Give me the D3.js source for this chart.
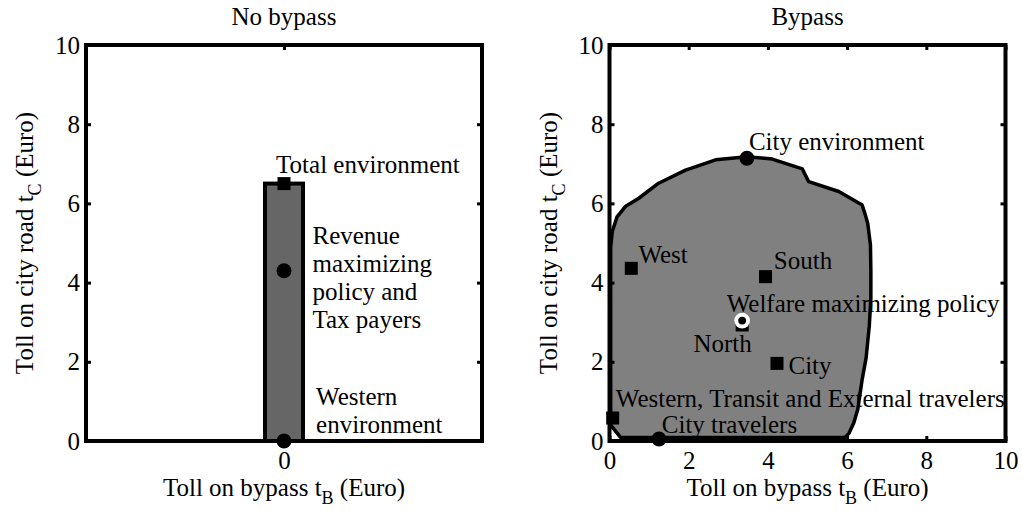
<!DOCTYPE html>
<html>
<head>
<meta charset="utf-8">
<script src="https://cdn.jsdelivr.net/npm/d3@7"></script>
<style>
  body { margin: 0; background: #fff; }
  svg { display: block; }
</style>
</head>
<body>
<svg id="chart" width="1022" height="510"></svg>
<script>
// ---- data ----
const yTicks = [0, 2, 4, 6, 8, 10];
const xTicksNoBypass = [0];
const xTicksBypass = [0, 2, 4, 6, 8, 10];

// no bypass: feasible set is a thin bar at t_B = 0
const barTB = [-0.48, 0.48];
const barTC = [0, 6.5];

const noBypassPoints = [
    { tB: 0, tC: 6.5, shape: "square" },   // total environment
    { tB: 0, tC: 4.3, shape: "circle" },   // revenue max / tax payers
    { tB: 0, tC: 0, shape: "circle" }      // western environment
];
const noBypassLabels = [
    { tB: -0.2, tC: 6.77, lines: ["Total environment"] },
    { tB: 0.72, tC: 4.97, lines: ["Revenue", "maximizing", "policy and", "Tax payers"] },
    { tB: 0.81, tC: 0.91, lines: ["Western", "environment"] }
];

// bypass: feasible region outline (t_B, t_C)
const regionTB = [0.03, 0.28, 5.95, 6.05, 6.17, 6.27, 6.38, 6.48, 6.56, 6.6, 6.6, 6.59, 6.52, 6.46,
                  6.38, 5.79, 5.03, 4.87, 4.11, 3.48, 2.68, 1.92, 1.24, 0.74, 0.40, 0.19, 0.07, 0.03];
const regionTC = [0.40, 0.09, 0.09, 0.2, 0.46, 0.8, 1.55, 2.1, 2.9, 3.6, 4.3, 4.95, 5.5, 5.71,
                  5.96, 6.30, 6.55, 6.87, 7.12, 7.18, 7.10, 6.84, 6.51, 6.13, 5.92, 5.66, 5.29, 4.9];

const bypassPoints = [
    { tB: 3.47, tC: 7.14, shape: "circle" },   // city environment
    { tB: 0.55, tC: 4.36, shape: "square" },   // west
    { tB: 3.94, tC: 4.15, shape: "square" },   // south
    { tB: 3.35, tC: 2.93, shape: "square" },   // north
    { tB: 4.23, tC: 1.96, shape: "square" },   // city
    { tB: 0.08, tC: 0.58, shape: "square" },   // western, transit, external
    { tB: 1.25, tC: 0.05, shape: "circle" },   // city travelers
    { tB: 3.35, tC: 3.04, shape: "welfare" }   // welfare max
];
const bypassLabels = [
    { tB: 3.52, tC: 7.35, lines: ["City environment"] },
    { tB: 0.73, tC: 4.49, lines: ["West"] },
    { tB: 4.15, tC: 4.34, lines: ["South"] },
    { tB: 2.96, tC: 3.25, lines: ["Welfare maximizing policy"] },
    { tB: 2.12, tC: 2.25, lines: ["North"] },
    { tB: 4.52, tC: 1.69, lines: ["City"] },
    { tB: 0.16, tC: 0.85, lines: ["Western, Transit and External travelers"] },
    { tB: 1.32, tC: 0.21, lines: ["City travelers"] }
];

// ---- drawing ----
const svg = d3.select("#chart");
const fs = 25;
const font = "'Liberation Serif', 'Times New Roman', serif";
const size = 396, marginTop = 45;

function txt(sel) {
    return sel.attr("font-family", font).attr("font-size", fs).attr("fill", "#000");
}

function panel(left, title, xDomain, xTicks) {
    const g = svg.append("g").attr("transform", `translate(${left}, ${marginTop})`);
    const x = d3.scaleLinear().domain(xDomain).range([0, size]);
    const y = d3.scaleLinear().domain([0, 10]).range([size, 0]);

    g.append("text").call(txt)
        .attr("x", size / 2).attr("y", -20)
        .attr("text-anchor", "middle")
        .text(title);

    // x label with subscript
    const xl = g.append("text").call(txt)
        .attr("x", size / 2).attr("y", size + 55)
        .attr("text-anchor", "middle");
    xl.append("tspan").text("Toll on bypass t");
    xl.append("tspan").attr("dy", 8).attr("font-size", 18).text("B");
    xl.append("tspan").attr("dy", -8).text(" (Euro)");

    const yl = g.append("text").call(txt)
        .attr("transform", `translate(-53, ${size / 2}) rotate(-90)`)
        .attr("text-anchor", "middle");
    yl.append("tspan").text("Toll on city road t");
    yl.append("tspan").attr("dy", 8).attr("font-size", 18).text("C");
    yl.append("tspan").attr("dy", -8).text(" (Euro)");

    return { g, x, y, xTicks };
}

function axes(p) {
    const { g, x, y, xTicks } = p;
    const styleAxis = sel => {
        sel.attr("font-family", font).attr("font-size", fs);
        sel.select(".domain").remove();
        sel.selectAll(".tick line").attr("stroke", "#000").attr("stroke-width", 3);
    };
    g.append("g").call(d3.axisLeft(y).tickValues(yTicks).tickSizeInner(-5).tickSizeOuter(0).tickPadding(6)).call(styleAxis);
    g.append("g").attr("transform", `translate(${size},0)`)
        .call(d3.axisRight(y).tickValues(yTicks).tickSizeInner(-5).tickSizeOuter(0).tickFormat(""))
        .call(styleAxis);
    g.append("g").attr("transform", `translate(0,${size})`)
        .call(d3.axisBottom(x).tickValues(xTicks).tickSizeInner(-5).tickSizeOuter(0).tickPadding(10))
        .call(styleAxis);
    g.append("g")
        .call(d3.axisTop(x).tickValues(xTicks).tickSizeInner(-5).tickSizeOuter(0).tickFormat(""))
        .call(styleAxis);
    g.append("rect")
        .attr("width", size).attr("height", size)
        .attr("fill", "none").attr("stroke", "#000").attr("stroke-width", 4);
}

function markers(p, pts) {
    const { g, x, y } = p;
    pts.forEach(d => {
        const cx = x(d.tB), cy = y(d.tC);
        if (d.shape === "square") {
            g.append("rect").attr("x", cx - 6.5).attr("y", cy - 6.5)
                .attr("width", 13).attr("height", 13).attr("fill", "#000");
        } else if (d.shape === "circle") {
            g.append("circle").attr("cx", cx).attr("cy", cy).attr("r", 7.5).attr("fill", "#000");
        } else {
            g.append("circle").attr("cx", cx).attr("cy", cy).attr("r", 7.8).attr("fill", "#fff");
            g.append("circle").attr("cx", cx).attr("cy", cy).attr("r", 3.9).attr("fill", "#000");
        }
    });
}

function labels(p, labs) {
    const { g, x, y } = p;
    labs.forEach(d => {
        const t = g.append("text").call(txt)
            .attr("x", x(d.tB)).attr("y", y(d.tC));
        d.lines.forEach((s, i) => {
            t.append("tspan").attr("x", x(d.tB)).attr("dy", i ? 28 : 0).text(s);
        });
    });
}

// left: no bypass
const pl = panel(86, "No bypass", [-5, 5], xTicksNoBypass);
pl.g.append("rect")
    .attr("x", pl.x(barTB[0])).attr("y", pl.y(barTC[1]))
    .attr("width", pl.x(barTB[1]) - pl.x(barTB[0]))
    .attr("height", pl.y(barTC[0]) - pl.y(barTC[1]))
    .attr("fill", "#666").attr("stroke", "#000").attr("stroke-width", 4);
labels(pl, noBypassLabels);
axes(pl);
markers(pl, noBypassPoints);

// right: bypass
const pr = panel(609.5, "Bypass", [0, 10], xTicksBypass);
const region = d3.line().x((d, i) => pr.x(regionTB[i])).y((d, i) => pr.y(regionTC[i]));
pr.g.append("path")
    .attr("d", region(regionTB) + "Z")
    .attr("fill", "#808080").attr("stroke", "#000").attr("stroke-width", 3.5)
    .attr("stroke-linejoin", "round");
labels(pr, bypassLabels);
axes(pr);
markers(pr, bypassPoints);
</script>
</body>
</html>
